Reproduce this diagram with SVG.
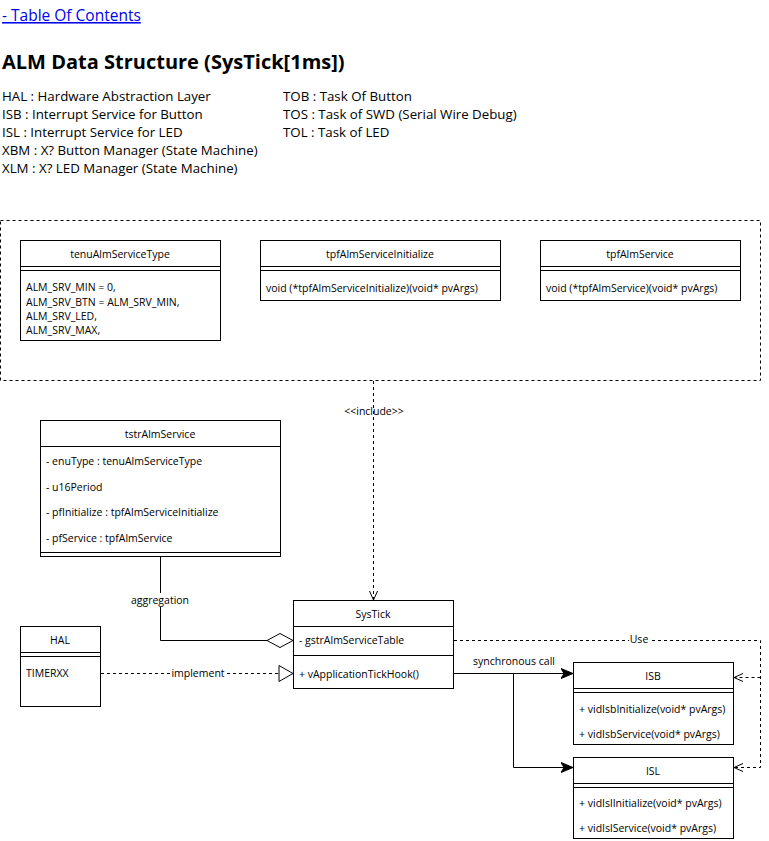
<svg xmlns="http://www.w3.org/2000/svg" width="769" height="841" viewBox="0 0 769 841">
<style>
.t{font-family:"Open Sans","Noto Sans",sans-serif;fill:#000}
.lg{font-size:13.3px}
.d{font-size:10.5px}
.c{text-anchor:middle}
.box{fill:#fff;stroke:#000;stroke-width:1}
.ln{stroke:#000;stroke-width:1;fill:none}
.ds{stroke:#000;stroke-width:1;fill:none;stroke-dasharray:3 3}
</style>
<defs>
<marker id="open" viewBox="0 0 10 10" refX="10" refY="5" markerWidth="10" markerHeight="10" markerUnits="userSpaceOnUse" orient="auto">
<path d="M1,1 L10,5 L1,9" fill="none" stroke="#000" stroke-width="1"/>
</marker>
<marker id="fill" viewBox="0 0 12 12" refX="12" refY="6" markerWidth="12" markerHeight="12" markerUnits="userSpaceOnUse" orient="auto">
<path d="M0,1 L12,6 L0,11 L3,6 Z" fill="#000" stroke="#000" stroke-width="1"/>
</marker>
</defs>
<rect width="769" height="841" fill="#fff"/>
<text x="2" y="21" class="t" style="font-size:15.5px;fill:#0000ee;text-decoration:underline">- Table Of Contents</text>
<text x="2" y="69" class="t" style="font-size:20px;font-weight:bold">ALM Data Structure (SysTick[1ms])</text>
<g class="t lg">
<text x="2" y="101">HAL : Hardware Abstraction Layer</text>
<text x="2" y="119">ISB : Interrupt Service for Button</text>
<text x="2" y="137">ISL : Interrupt Service for LED</text>
<text x="2" y="155">XBM : X? Button Manager (State Machine)</text>
<text x="2" y="173">XLM : X? LED Manager (State Machine)</text>
<text x="283" y="101">TOB : Task Of Button</text>
<text x="283" y="119">TOS : Task of SWD (Serial Wire Debug)</text>
<text x="283" y="137">TOL : Task of LED</text>
</g>
<g id="container">
<rect x="0.5" y="220.5" width="760" height="160" class="ds"/>
</g>
<g id="tenuAlmServiceType">
<rect x="20.5" y="240.5" width="200" height="100" class="box"/>
<line x1="20.5" y1="266.5" x2="220.5" y2="266.5" class="ln"/>
<line x1="20.5" y1="270.5" x2="220.5" y2="270.5" class="ln"/>
<text x="120" y="258" class="t d c">tenuAlmServiceType</text>
<text x="26" y="291" class="t d">ALM_SRV_MIN = 0,</text>
<text x="26" y="306" class="t d">ALM_SRV_BTN = ALM_SRV_MIN,</text>
<text x="26" y="320" class="t d">ALM_SRV_LED,</text>
<text x="26" y="334" class="t d">ALM_SRV_MAX,</text>
</g>
<g id="tpfAlmServiceInitialize">
<rect x="260.5" y="240.5" width="240" height="60" class="box"/>
<line x1="260.5" y1="266.5" x2="500.5" y2="266.5" class="ln"/>
<line x1="260.5" y1="270.5" x2="500.5" y2="270.5" class="ln"/>
<text x="380" y="258" class="t d c">tpfAlmServiceInitialize</text>
<text x="266" y="292" class="t d">void (*tpfAlmServiceInitialize)(void* pvArgs)</text>
</g>
<g id="tpfAlmService">
<rect x="540.5" y="240.5" width="200" height="60" class="box"/>
<line x1="540.5" y1="266.5" x2="740.5" y2="266.5" class="ln"/>
<line x1="540.5" y1="270.5" x2="740.5" y2="270.5" class="ln"/>
<text x="640" y="258" class="t d c">tpfAlmService</text>
<text x="546" y="292" class="t d">void (*tpfAlmService)(void* pvArgs)</text>
</g>
<g id="tstrAlmService">
<rect x="40.5" y="420.5" width="240" height="136" class="box"/>
<line x1="40.5" y1="446.5" x2="280.5" y2="446.5" class="ln"/>
<line x1="40.5" y1="552.5" x2="280.5" y2="552.5" class="ln"/>
<text x="160" y="438" class="t d c">tstrAlmService</text>
<text x="46" y="465" class="t d">- enuType : tenuAlmServiceType</text>
<text x="46" y="491" class="t d">- u16Period</text>
<text x="46" y="516" class="t d">- pfInitialize : tpfAlmServiceInitialize</text>
<text x="46" y="542" class="t d">- pfService : tpfAlmService</text>
</g>
<g id="SysTick">
<rect x="293.5" y="600.5" width="160" height="88" class="box"/>
<line x1="293.5" y1="626.5" x2="453.5" y2="626.5" class="ln"/>
<line x1="293.5" y1="655.5" x2="453.5" y2="655.5" class="ln"/>
<text x="373" y="618" class="t d c">SysTick</text>
<text x="299" y="644" class="t d">- gstrAlmServiceTable</text>
<text x="299" y="678" class="t d">+ vApplicationTickHook()</text>
</g>
<g id="HAL">
<rect x="20.5" y="626.5" width="80" height="80" class="box"/>
<line x1="20.5" y1="652.5" x2="100.5" y2="652.5" class="ln"/>
<line x1="20.5" y1="656.5" x2="100.5" y2="656.5" class="ln"/>
<text x="60" y="644" class="t d c">HAL</text>
<text x="26" y="677" class="t d">TIMERXX</text>
</g>
<g id="ISB">
<rect x="573.5" y="662.5" width="160" height="82" class="box"/>
<line x1="573.5" y1="688.5" x2="733.5" y2="688.5" class="ln"/>
<line x1="573.5" y1="692.5" x2="733.5" y2="692.5" class="ln"/>
<text x="653" y="680" class="t d c">ISB</text>
<text x="579" y="713" class="t d">+ vidIsbInitialize(void* pvArgs)</text>
<text x="579" y="738" class="t d">+ vidIsbService(void* pvArgs)</text>
</g>
<g id="ISL">
<rect x="573.5" y="757.5" width="160" height="81" class="box"/>
<line x1="573.5" y1="783.5" x2="733.5" y2="783.5" class="ln"/>
<line x1="573.5" y1="787.5" x2="733.5" y2="787.5" class="ln"/>
<text x="653" y="775" class="t d c">ISL</text>
<text x="579" y="807" class="t d">+ vidIslInitialize(void* pvArgs)</text>
<text x="579" y="832" class="t d">+ vidIslService(void* pvArgs)</text>
</g>
<g id="connectors">
<path d="M373.5,381 L373.5,600" class="ds" marker-end="url(#open)"/>
<text x="374" y="415" class="t c" style="font-size:10.5px">&lt;&lt;include&gt;&gt;</text>
<path d="M160.5,557 L160.5,640.5 L267,640.5" class="ln"/>
<path d="M293,640.5 L280,633.5 L267,640.5 L280,647.5 Z" fill="#fff" stroke="#000"/>
<rect x="130" y="593" width="60" height="14" fill="#fff"/>
<text x="160" y="604" class="t d c">aggregation</text>
<path d="M101,673.5 L279,673.5" class="ds"/>
<path d="M293,673.5 L279,665.5 L279,681.5 Z" fill="#fff" stroke="#000"/>
<rect x="172" y="666" width="52" height="14" fill="#fff"/>
<text x="198" y="677" class="t d c">implement</text>
<path d="M454,673.5 L573,673.5" class="ln" marker-end="url(#fill)"/>
<path d="M513.5,673.5 L513.5,767.5 L573,767.5" class="ln" marker-end="url(#fill)"/>
<text x="514" y="665" class="t d c">synchronous call</text>
<path d="M454,640.5 L760.5,640.5 L760.5,767.5 L734,767.5" class="ds" marker-end="url(#open)"/>
<path d="M760.5,677.5 L734,677.5" class="ds" marker-end="url(#open)"/>
<rect x="629" y="633" width="20" height="12" fill="#fff"/>
<text x="639" y="643" class="t d c">Use</text>
</g>
</svg>
